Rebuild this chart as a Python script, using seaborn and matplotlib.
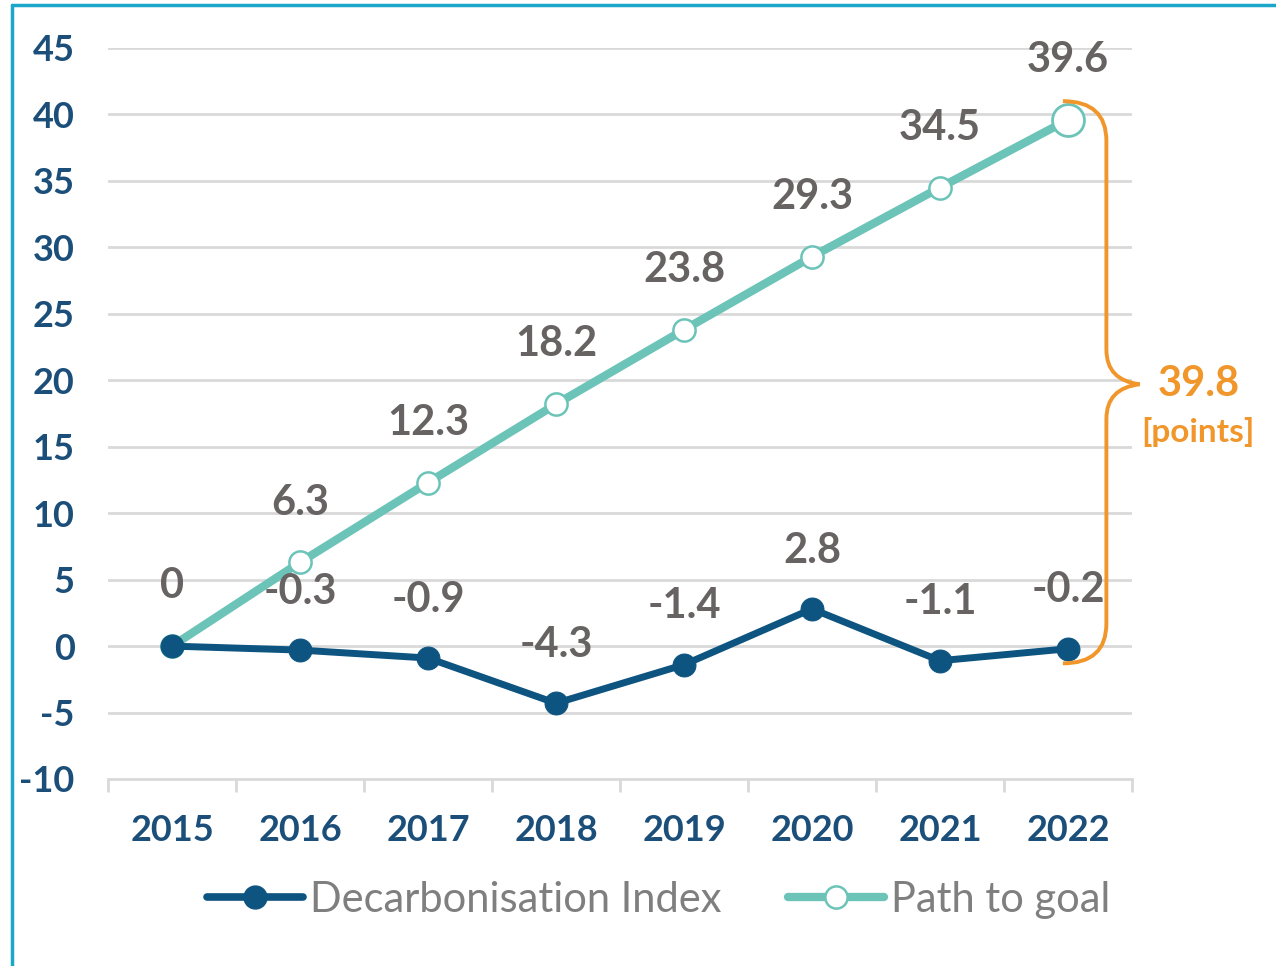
import matplotlib
matplotlib.use("Agg")
import matplotlib.pyplot as plt
from matplotlib.path import Path
from matplotlib.patches import PathPatch
from matplotlib.lines import Line2D
import seaborn as sns
import pandas as pd
import numpy as np

years = ["2015", "2016", "2017", "2018", "2019", "2020", "2021", "2022"]
decarb = [0, -0.3, -0.9, -4.3, -1.4, 2.8, -1.1, -0.2]
path_goal = [0, 6.3, 12.3, 18.2, 23.8, 29.3, 34.5, 39.6]
decarb_labels = ["", "-0.3", "-0.9", "-4.3", "-1.4", "2.8", "-1.1", "-0.2"]
path_labels = ["0", "6.3", "12.3", "18.2", "23.8", "29.3", "34.5", "39.6"]
gap_value = "39.8"
gap_unit = "[points]"
series_names = ["Decarbonisation Index", "Path to goal"]
yticks = [-10, -5, 0, 5, 10, 15, 20, 25, 30, 35, 40, 45]

DARK = "#0E5480"
TEAL = "#6CC4B8"
ORANGE = "#F0962A"
LABEL_GRAY = "#676363"
TICK_BLUE = "#1B4F7A"
GRID = "#D9D9D9"

sns.set_theme(style="white")
plt.rcParams['font.family'] = ['Lato', 'DejaVu Sans']

fig = plt.figure(figsize=(12.76, 9.66), dpi=100)
ax = fig.add_axes([108/1276, 1-779/966, (1132-108)/1276, (779-48)/966])

xs = np.arange(len(years))
df = pd.DataFrame({"x": xs, "decarb": decarb, "path": path_goal})

# gridlines
for v in yticks[1:]:
    ax.axhline(v, color=GRID, lw=2, zorder=0)

sns.lineplot(data=df, x="x", y="path", ax=ax, color=TEAL, lw=6,
             marker="o", markersize=16, markerfacecolor="white",
             markeredgecolor=TEAL, markeredgewidth=1.8, zorder=3)
sns.lineplot(data=df, x="x", y="decarb", ax=ax, color=DARK, lw=5,
             marker="o", markersize=16.5, markerfacecolor=DARK,
             markeredgecolor=DARK, zorder=4)
# larger final marker of path
ax.plot([xs[-1]], [path_goal[-1]], marker="o", markersize=23,
        markerfacecolor="white", markeredgecolor=TEAL, markeredgewidth=2,
        zorder=5, linestyle="none")

for i in range(len(xs)):
    if path_labels[i]:
        ax.annotate(path_labels[i], (xs[i], path_goal[i]), xytext=(0, 43),
                    textcoords="offset points", ha="center", va="center",
                    fontsize=30, fontweight="bold", color=LABEL_GRAY)
    if decarb_labels[i]:
        ax.annotate(decarb_labels[i], (xs[i], decarb[i]), xytext=(0, 42),
                    textcoords="offset points", ha="center", va="center",
                    fontsize=30, fontweight="bold", color=LABEL_GRAY)

ax.set_xlim(-0.5, 7.5)
ax.set_ylim(-10, 45)
ax.set_yticks(yticks)
ax.set_yticklabels([str(v) for v in yticks])
ax.set_xticks(xs)
ax.set_xticklabels(years)
ax.set_xticks(np.arange(-0.5, 8, 1), minor=True)
ax.tick_params(axis="y", length=0, pad=24, labelsize=26, labelcolor=TICK_BLUE)
ax.tick_params(axis="x", which="major", length=0, pad=25, labelsize=26,
               labelcolor=TICK_BLUE)
ax.tick_params(axis="x", which="minor", length=9, width=2, color=GRID,
               direction="out", bottom=True)
for lab in ax.get_xticklabels() + ax.get_yticklabels():
    lab.set_fontweight("bold")
ax.set_xlabel("")
ax.set_ylabel("")
for s in ["top", "right", "left"]:
    ax.spines[s].set_visible(False)
ax.spines["bottom"].set_color(GRID)
ax.spines["bottom"].set_linewidth(2)

# curly brace
x0, xv, xt = 6.96, 7.30, 7.56
ytop, ybot = 41.0, -1.3
ymid = (path_goal[-1] + decarb[-1]) / 2
r = 3.0
m = 1.6
verts = [(x0, ytop), (xv, ytop), (xv, ytop - r), (xv, ytop - r),
         (xv, ymid + m + 1.0), (xv, ymid + 0.3), (xt, ymid),
         (xv, ymid - 0.3), (xv, ymid - m - 1.0), (xv, ymid - m - 1.0),
         (xv, ybot + r), (xv, ybot), (x0, ybot)]
codes = [Path.MOVETO, Path.CURVE3, Path.CURVE3, Path.LINETO,
         Path.LINETO, Path.CURVE3, Path.CURVE3,
         Path.CURVE3, Path.CURVE3, Path.LINETO,
         Path.LINETO, Path.CURVE3, Path.CURVE3]
brace = PathPatch(Path(verts, codes), facecolor="none", edgecolor=ORANGE,
                  lw=2.8, clip_on=False, zorder=6, capstyle="butt")
ax.add_patch(brace)
fig.text(1199/1276, 1-384/966, gap_value, ha="center", va="center",
         fontsize=30, fontweight="bold", color=ORANGE)
fig.text(1198/1276, 1-432/966, gap_unit, ha="center", va="center",
         fontsize=24, fontweight="bold", color=ORANGE)

handles = [Line2D([], [], color=DARK, lw=5.5, marker="o", markersize=16.5,
                  markerfacecolor=DARK, markeredgecolor=DARK),
           Line2D([], [], color=TEAL, lw=6, marker="o", markersize=16,
                  markerfacecolor="white", markeredgecolor=TEAL,
                  markeredgewidth=1.8)]
leg = fig.legend(handles, series_names, loc="center", ncol=2,
                 bbox_to_anchor=(659/1276, 1-900/966), frameon=False,
                 fontsize=30, handlelength=2.3, handletextpad=0.17,
                 columnspacing=1.6, labelcolor="#7F7F7F")

# frame border
fig.add_artist(Line2D([12/1276, 12/1276], [0, 1-5/966], color="#1BA7C9",
                      lw=2.5, transform=fig.transFigure))
fig.add_artist(Line2D([12/1276, 1], [1-5/966, 1-5/966], color="#1BA7C9",
                      lw=2.5, transform=fig.transFigure))

fig.savefig("out.png", dpi=100, facecolor="white")
